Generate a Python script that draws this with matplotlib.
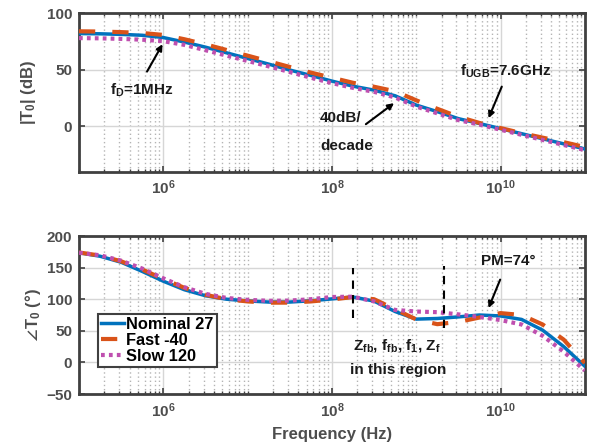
import numpy as np
import matplotlib
matplotlib.use('Agg')
import matplotlib.pyplot as plt
from matplotlib import font_manager
from matplotlib.ticker import FixedLocator, LogLocator, LogFormatterMathtext, NullFormatter

# frequency grid (log10 of Hz), every quarter decade
log_f = [5.0, 5.25, 5.5, 5.75, 6.0, 6.25, 6.5, 6.75, 7.0, 7.25, 7.5, 7.75, 8.0,
         8.25, 8.5, 8.75, 9.0, 9.25, 9.5, 9.75, 10.0, 10.25, 10.5, 10.75, 11.0]

# loop gain magnitude (dB)
mag_nominal = [82.0, 81.8, 81.3, 80.5, 78.5, 74.5, 70.0, 65.0, 60.0, 55.0, 49.8, 45.0, 40.0,
               35.5, 32.0, 27.0, 18.8, 13.0, 6.8, 2.5, -2.0, -6.5, -11.0, -15.5, -20.0]
mag_fast = [84.0, 83.8, 83.3, 82.5, 80.8, 77.0, 72.5, 67.5, 62.5, 57.5, 52.5, 47.5, 43.0,
            38.5, 35.0, 31.0, 23.0, 15.5, 8.5, 3.0, -1.5, -6.0, -10.0, -14.0, -18.3]
mag_slow = [78.0, 77.8, 77.3, 76.6, 75.3, 72.0, 67.3, 62.5, 57.8, 53.0, 48.0, 43.0, 38.2,
            34.0, 30.5, 25.5, 17.5, 11.5, 5.5, 1.5, -3.0, -7.5, -12.0, -16.5, -21.0]

# loop gain phase (deg)
ph_nominal = [173.5, 168.0, 158.5, 144.0, 128.5, 115.0, 105.5, 100.0, 97.3, 95.5, 95.5, 97.5, 100.5,
              103.5, 97.0, 80.5, 68.5, 69.5, 72.0, 75.0, 73.5, 68.0, 51.0, 25.0, -6.0]
ph_fast = [174.0, 169.0, 160.0, 147.0, 132.0, 118.0, 107.0, 100.0, 96.5, 94.5, 94.6, 96.5, 99.5,
           103.5, 100.0, 84.0, 68.0, 60.5, 64.0, 71.0, 78.0, 75.0, 60.0, 36.0, -1.0]
ph_slow = [173.5, 169.5, 161.0, 148.5, 133.0, 119.0, 108.5, 102.0, 99.0, 97.5, 97.8, 100.0, 103.5,
           104.0, 96.5, 83.0, 80.5, 79.5, 76.0, 72.0, 67.0, 60.0, 42.0, 17.0, -13.0]

series_labels = ['Nominal 27', 'Fast -40', 'Slow 120']
mag_yticks = [0, 50, 100]
ph_yticks = [-50, 0, 50, 100, 150, 200]
major_f = [1e6, 1e8, 1e10]

freq = 10 ** np.array(log_f)

installed = {f.name for f in font_manager.fontManager.ttflist}
narrow = 'Liberation Sans Narrow' if 'Liberation Sans Narrow' in installed else 'Liberation Sans'

plt.rcParams['font.family'] = ['Liberation Sans', 'DejaVu Sans']
plt.rcParams['font.weight'] = 'bold'
plt.rcParams['axes.labelweight'] = 'bold'
plt.rcParams['mathtext.fontset'] = 'custom'
plt.rcParams['mathtext.rm'] = 'Liberation Sans:bold'
plt.rcParams['mathtext.bf'] = 'Liberation Sans:bold'
plt.rcParams['mathtext.it'] = 'Liberation Sans:bold'
plt.rcParams['mathtext.fallback'] = 'stix'

GRAY = '#4d4d4d'
FRAME = '#404040'
C_NOM = '#0072BD'
C_FAST = '#D95319'
C_SLOW = '#BF4FAF'

fig = plt.figure(figsize=(5.93, 4.48), dpi=100)
ax1 = fig.add_axes([0.1332, 0.617, 0.853, 0.3535])
ax2 = fig.add_axes([0.1332, 0.1205, 0.853, 0.3527])


def draw(ax, nom, fast, slow):
    ax.semilogx(freq, nom, color=C_NOM, lw=2.5, label=series_labels[0], zorder=3)
    ax.semilogx(freq, fast, color=C_FAST, lw=3.0, dashes=(3.9, 4.1), label=series_labels[1], zorder=4)
    ax.semilogx(freq, slow, color=C_SLOW, lw=3.0, dashes=(0.9, 1.0), label=series_labels[2], zorder=5)


def style(ax, yticks, ylim):
    ax.set_xlim(1e5, 1e11)
    ax.set_ylim(*ylim)
    ax.set_yticks(yticks)
    ax.xaxis.set_major_locator(FixedLocator(major_f))
    ax.xaxis.set_major_formatter(LogFormatterMathtext())
    ax.xaxis.set_minor_locator(LogLocator(base=10, subs=np.arange(1, 10), numticks=100))
    ax.xaxis.set_minor_formatter(NullFormatter())
    ax.grid(True, which='major', color='#d6d6d6', lw=1.0, ls='-', zorder=0)
    ax.grid(True, which='minor', axis='x', color='#b4b4b4', lw=1.0, ls=(0, (1, 2)), zorder=0)
    ax.tick_params(which='both', direction='in', top=True, right=True, color=FRAME,
                   labelcolor=GRAY, labelsize=11)
    ax.tick_params(which='major', length=4, width=1.2, pad=5)
    ax.tick_params(which='minor', length=2, width=1.0)
    for s in ax.spines.values():
        s.set_color(FRAME)
        s.set_linewidth(2.0)
    for lab in ax.get_xticklabels() + ax.get_yticklabels():
        lab.set_fontweight('bold')


draw(ax1, mag_nominal, mag_fast, mag_slow)
style(ax1, mag_yticks, (-40, 100))
ax1.set_ylabel(r'$|T_0|$ (dB)', fontsize=12, color=GRAY, fontweight='bold', labelpad=6)

draw(ax2, ph_nominal, ph_fast, ph_slow)
style(ax2, ph_yticks, (-50, 200))
ax2.set_ylabel(r'$\angle T_0$ ($\degree$)', fontsize=12, color=GRAY, fontweight='bold', labelpad=2)
ax2.set_xlabel('Frequency (Hz)', fontsize=12, color=GRAY, fontweight='bold', labelpad=5)

arrow = dict(arrowstyle='-|>', color='black', lw=1.5, mutation_scale=9, shrinkA=0, shrinkB=0)
txt = dict(fontsize=11, family=narrow, color='#1a1a1a', ha='center', va='center')

# magnitude annotations
ax1.annotate('', xy=(10 ** 5.991, 72.6), xytext=(10 ** 5.807, 48.4), arrowprops=arrow, zorder=6)
ax1.text(10 ** 5.746, 31.6, r'f$_\mathregular{D}$=1MHz', **txt)
ax1.annotate('', xy=(10 ** 8.737, 20.5), xytext=(10 ** 8.403, 1.9), arrowprops=arrow, zorder=6)
ax1.text(10 ** 7.86, 7.4, '40dB/', **{**txt, 'ha': 'left'})
ax1.text(10 ** 7.86, -17.3, 'decade', **{**txt, 'ha': 'left'})
ax1.annotate('', xy=(10 ** 9.858, 7.2), xytext=(10 ** 10.015, 35.1), arrowprops=arrow, zorder=6)
ax1.text(10 ** 10.065, 48.4, r'f$_\mathregular{UGB}$=7.6GHz', **txt)

# phase annotations
ax2.plot([10 ** 8.245, 10 ** 8.245], [70, 149], color='black', lw=1.5, ls=(0, (4, 3)), zorder=6)
ax2.plot([10 ** 9.33, 10 ** 9.33], [54, 152], color='black', lw=1.5, ls=(0, (4, 3)), zorder=6)
ax2.text(10 ** 8.768, 26, r'Z$_\mathregular{fb}$, f$_\mathregular{fb}$, f$_\mathregular{1}$, Z$_\mathregular{f}$', **txt)
ax2.text(10 ** 8.785, -12, 'in this region', **txt)
ax2.annotate('', xy=(10 ** 9.858, 86), xytext=(10 ** 9.996, 131), arrowprops=arrow, zorder=6)
ax2.text(10 ** 10.088, 160, 'PM=74°', **txt)

leg = ax2.legend(loc='upper left', bbox_to_anchor=(0.037, 0.506), borderaxespad=0,
                 fancybox=False, framealpha=1, edgecolor=FRAME, handlelength=1.45,
                 handletextpad=0.12, borderpad=0.18, labelspacing=0.05,
                 prop={'weight': 'bold', 'size': 11.8})
leg.get_frame().set_linewidth(1.5)
leg.set_zorder(10)

fig.savefig('out.png', dpi=100)
